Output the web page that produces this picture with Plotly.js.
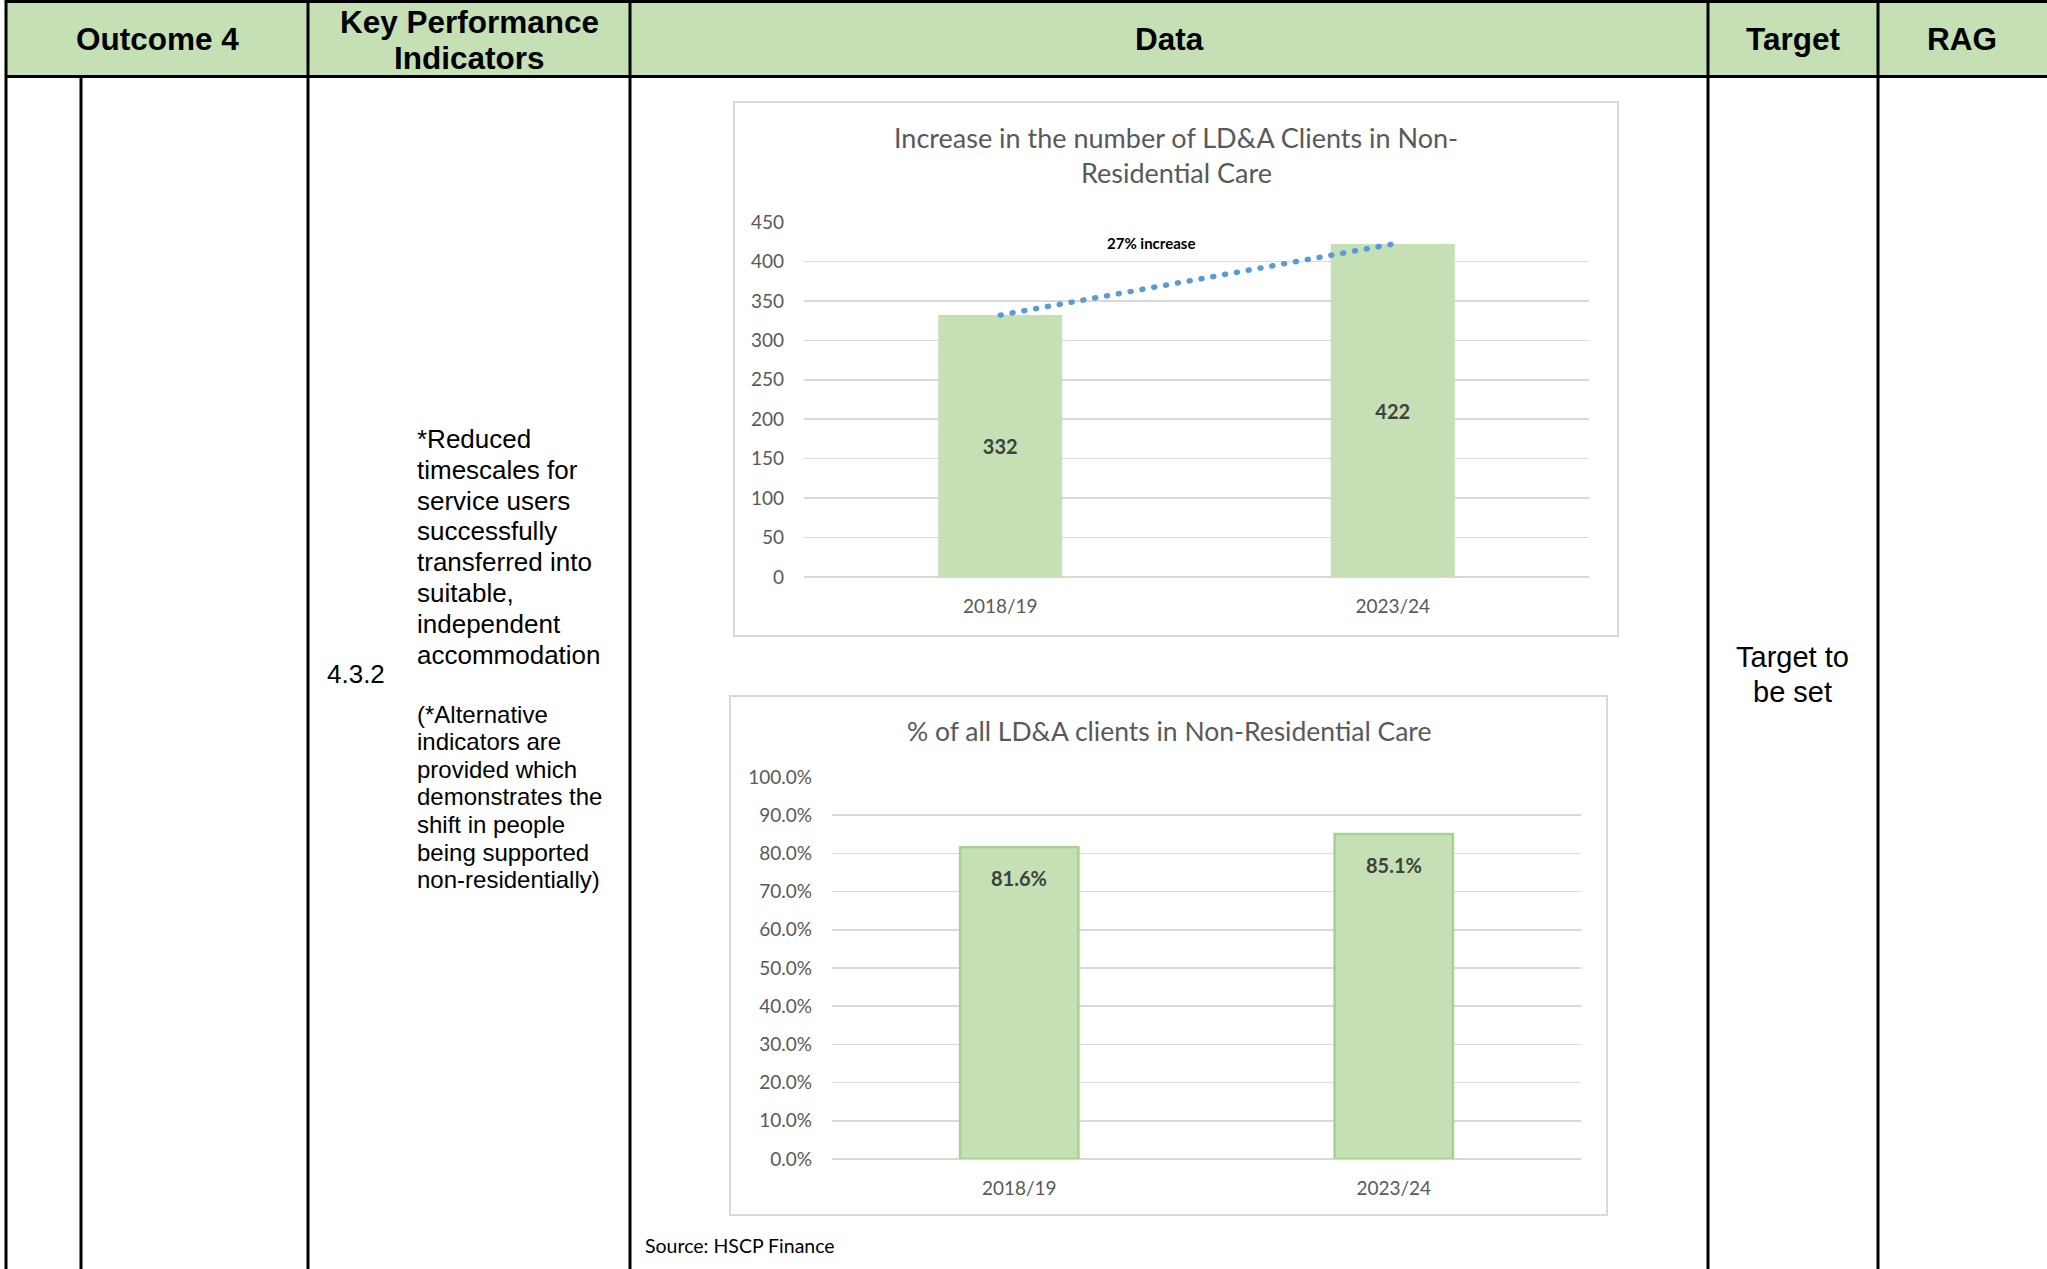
<!DOCTYPE html>
<html>
<head>
<meta charset="utf-8">
<script src="https://cdn.plot.ly/plotly-3.0.1.min.js"></script>
<style>
  html, body { margin: 0; padding: 0; background: #ffffff; }
  #plot { width: 2047px; height: 1269px; }
  #plot path.js-line { stroke-linecap: round !important; }
</style>
</head>
<body>
<div id="plot"></div>
<script>
// ---- data ----
const categories = ['2018/19', '2023/24'];
const clientCounts = [332, 422];
const nonResidentialShare = [0.816, 0.851];
const increaseLabel = '27% increase';

const chart1Title = 'Increase in the number of LD&A Clients in Non-<br>Residential Care';
const chart2Title = '% of all LD&A clients in Non-Residential Care';

const headerLabels = ['Outcome 4', 'Key Performance<br>Indicators', 'Data', 'Target', 'RAG'];
const kpiNumber = '4.3.2';
const kpiLines = ['*Reduced', 'timescales for', 'service users', 'successfully', 'transferred into',
                  'suitable,', 'independent', 'accommodation'];
const kpiNoteLines = ['(*Alternative', 'indicators are', 'provided which', 'demonstrates the',
                      'shift in people', 'being supported', 'non-residentially)'];
const targetLines = ['Target to', 'be set'];
const sourceText = 'Source: HSCP Finance';

// ---- helpers (pixel -> paper) ----
const W = 2047, H = 1269;
const X = px => px / W;
const Y = py => 1 - py / H;

const GREEN = '#C5E0B4';
const GREEN_EDGE = '#A9D18E';
const GRID = '#D9D9D9';
const GREY_TXT = '#595959';
const CHART_FONT = 'Lato, "Open Sans", sans-serif';
const TABLE_FONT = '"Liberation Sans", Arial, sans-serif';

// ---- traces ----
const traces = [
  {
    type: 'bar', x: categories, y: clientCounts, xaxis: 'x', yaxis: 'y',
    marker: { color: GREEN, line: { width: 0 } },
    text: clientCounts.map(String), textposition: 'inside', insidetextanchor: 'middle',
    textangle: 0,
    textfont: { family: CHART_FONT, size: 20, weight: 700, color: '#404040' },
    hoverinfo: 'skip', showlegend: false
  },
  {
    type: 'scatter', mode: 'lines', x: categories, y: clientCounts, xaxis: 'x', yaxis: 'y',
    line: { color: '#5B9BD5', width: 5.5, dash: '1px,11px' },
    hoverinfo: 'skip', showlegend: false
  },
  {
    type: 'bar', x: categories, y: nonResidentialShare, xaxis: 'x2', yaxis: 'y2',
    marker: { color: GREEN, line: { color: GREEN_EDGE, width: 2.5 } },
    hoverinfo: 'skip', showlegend: false
  }
];

// ---- shapes: table and chart frames ----
const shapes = [];
shapes.push({ type: 'rect', xref: 'paper', yref: 'paper', x0: X(6), x1: X(2047), y0: Y(77), y1: Y(0),
              fillcolor: GREEN, line: { width: 0 }, layer: 'below' });
function hline(y, x0, x1) {
  shapes.push({ type: 'line', xref: 'paper', yref: 'paper', x0: X(x0), x1: X(x1), y0: Y(y), y1: Y(y),
                line: { color: '#000000', width: 3 } });
}
function vline(x, y0, y1) {
  shapes.push({ type: 'line', xref: 'paper', yref: 'paper', x0: X(x), x1: X(x), y0: Y(y0), y1: Y(y1),
                line: { color: '#000000', width: 3 } });
}
hline(1.5, 5, 2047);
hline(76.5, 5, 2047);
vline(6, 0, 1269);
vline(81, 76, 1269);
vline(308, 0, 1269);
vline(630, 0, 1269);
vline(1708, 0, 1269);
vline(1878, 0, 1269);
// chart frames
shapes.push({ type: 'rect', xref: 'paper', yref: 'paper', x0: X(734), x1: X(1618), y0: Y(636), y1: Y(102),
              line: { color: GRID, width: 2 }, fillcolor: 'rgba(0,0,0,0)', layer: 'below' });
shapes.push({ type: 'rect', xref: 'paper', yref: 'paper', x0: X(730), x1: X(1607), y0: Y(1215), y1: Y(696),
              line: { color: GRID, width: 2 }, fillcolor: 'rgba(0,0,0,0)', layer: 'below' });

// ---- annotations ----
const ann = [];
function txt(text, x, y, opts) {
  ann.push(Object.assign({ text: text, xref: 'paper', yref: 'paper', x: X(x), y: Y(y),
    showarrow: false, xanchor: 'center', yanchor: 'middle' }, opts));
}
const headerX = [157, 469.5, 1169.5, 1793, 1962];
headerLabels.forEach((h, i) => {
  if (h.indexOf('<br>') >= 0) {
    h.split('<br>').forEach((part, j) => txt('<b>' + part + '</b>', headerX[i], 22 + j * 35.5,
      { font: { family: TABLE_FONT, size: 31.5, color: '#000' } }));
  } else {
    txt('<b>' + h + '</b>', headerX[i], 39, { font: { family: TABLE_FONT, size: 31.5, color: '#000' } });
  }
});
txt(kpiNumber, 325, 674, { xanchor: 'left', font: { family: TABLE_FONT, size: 26, color: '#000' } });
kpiLines.forEach((l, i) => txt(l, 415, 439 + i * 30.8,
  { xanchor: 'left', font: { family: TABLE_FONT, size: 26, color: '#000' } }));
kpiNoteLines.forEach((l, i) => txt(l, 415, 714 + i * 27.6,
  { xanchor: 'left', font: { family: TABLE_FONT, size: 24, color: '#000' } }));
targetLines.forEach((l, i) => txt(l, 1792, 657 + i * 35,
  { font: { family: TABLE_FONT, size: 29, color: '#000' } }));

// chart titles
chart1Title.split('<br>').forEach((l, i) => txt(l, 1176, 137 + i * 36,
  { font: { family: CHART_FONT, size: 27, color: GREY_TXT } }));
txt(chart2Title, 1169, 731, { font: { family: CHART_FONT, size: 26.5, color: GREY_TXT } });
txt(sourceText, 643, 1245, { xanchor: 'left', font: { family: CHART_FONT, size: 19.5, color: '#000' } });

// "27% increase" label
ann.push({ text: '<b>' + increaseLabel + '</b>', xref: 'x', yref: 'y', x: 0.384, y: 423,
  showarrow: false, xanchor: 'center', yanchor: 'middle',
  font: { family: CHART_FONT, size: 15, color: '#000' } });

// chart 2 value labels inside bar tops
categories.forEach((c, i) => {
  ann.push({ text: '<b>' + (nonResidentialShare[i] * 100).toFixed(1) + '%</b>', xref: 'x2', yref: 'y2',
    x: c, y: nonResidentialShare[i], yshift: -31, showarrow: false, xanchor: 'center', yanchor: 'middle',
    font: { family: CHART_FONT, size: 20, color: '#404040' } });
});

const tickFont = { family: CHART_FONT, size: 19, color: GREY_TXT };

const layout = {
  width: W, height: H,
  margin: { l: 0, r: 0, t: 0, b: 0, pad: 0 },
  paper_bgcolor: '#ffffff', plot_bgcolor: 'rgba(0,0,0,0)',
  showlegend: false,
  bargap: 0.684,
  xaxis: { domain: [X(804), X(1589)], anchor: 'y', type: 'category', range: [-0.5, 1.5],
    showgrid: false, showline: false, zeroline: false, ticks: '', tickfont: tickFont,
    ticklabelstandoff: 16, fixedrange: true },
  yaxis: { domain: [Y(577), Y(222)], anchor: 'x', range: [0, 450], dtick: 50, tick0: 0,
    showgrid: true, gridcolor: GRID, gridwidth: 1.6, zeroline: true, zerolinecolor: GRID, zerolinewidth: 1.6,
    showline: false, ticks: '', tickfont: tickFont, ticklabelstandoff: 19, fixedrange: true },
  xaxis2: { domain: [X(832), X(1581)], anchor: 'y2', type: 'category', range: [-0.5, 1.5],
    showgrid: false, showline: false, zeroline: false, ticks: '', tickfont: tickFont,
    ticklabelstandoff: 16, fixedrange: true },
  yaxis2: { domain: [Y(1159), Y(777)], anchor: 'x2', range: [0, 1], dtick: 0.1, tick0: 0,
    tickformat: '.1%',
    showgrid: true, gridcolor: GRID, gridwidth: 1.6, zeroline: true, zerolinecolor: GRID, zerolinewidth: 1.6,
    showline: false, ticks: '', tickfont: tickFont, ticklabelstandoff: 19, fixedrange: true },
  shapes: shapes,
  annotations: ann
};

Plotly.newPlot('plot', traces, layout, { staticPlot: true, displayModeBar: false });
</script>
</body>
</html>
